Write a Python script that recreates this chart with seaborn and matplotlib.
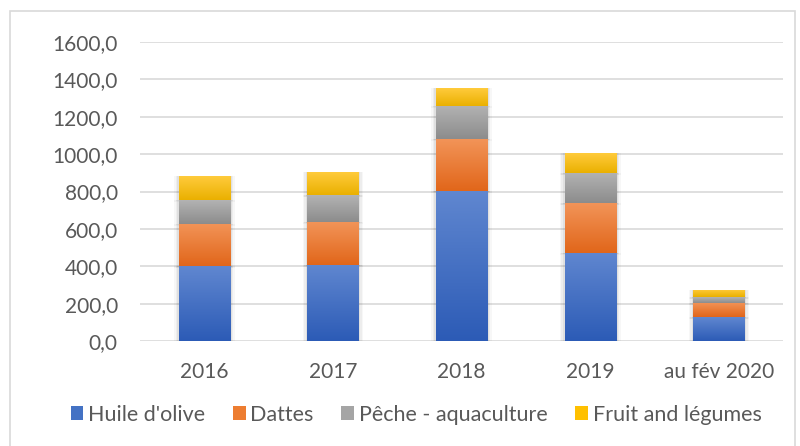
import numpy as np
import pandas as pd
import seaborn as sns
import matplotlib.pyplot as plt
from matplotlib.colors import LinearSegmentedColormap
from matplotlib.patches import Patch, Rectangle

# values
years = ["2016", "2017", "2018", "2019", "au fév 2020"]
huile = [401, 407, 803, 471, 128]
dattes = [227, 230, 278, 267, 77]
peche = [128, 144, 178, 161, 30]
fruits = [127, 123, 95, 105, 38]

series = ["Huile d'olive", "Dattes", "Pêche - aquaculture", "Fruit and légumes"]
# top / bottom colours of the excel style gradient, plus the flat legend colour
grad_top = ["#6087D0", "#F29458", "#B3B3B3", "#FFCB3C"]
grad_bot = ["#2C5BB6", "#E1661A", "#8C8C8C", "#EAB000"]
flat = ["#4472C4", "#ED7D31", "#A5A5A5", "#FFC000"]

df = pd.DataFrame({"annee": years, series[0]: huile, series[1]: dattes,
                   series[2]: peche, series[3]: fruits})
cum = df[series].cumsum(axis=1)

sns.set_style("white")
plt.rcParams["font.family"] = ["Lato", "DejaVu Sans"]

fig = plt.figure(figsize=(8, 4.46), dpi=100)
ax = fig.add_axes([0.175, 0.2354, 0.804, 0.6704])

# draw the stack from the top layer down, seaborn bars start at 0
for i in reversed(range(len(series))):
    sns.barplot(x=df["annee"], y=cum[series[i]], color=flat[i], width=0.4,
                saturation=1, linewidth=0, ax=ax, zorder=3)

# trim every bar to its own segment and paint a vertical gradient on it
n = len(years)
grad = np.linspace(1, 0, 256).reshape(-1, 1)  # row 0 = top of the bar
for layer, i in enumerate(reversed(range(len(series)))):
    cmap = LinearSegmentedColormap.from_list("g", [grad_bot[i], grad_top[i]])
    for j in range(n):
        p = ax.patches[layer * n + j]
        b = float(cum[series[i - 1]][j]) if i > 0 else 0.0
        p.set_y(b)
        p.set_height(float(df[series[i]][j]))
        x0 = p.get_x()
        x1 = x0 + p.get_width()
        # soft shadow
        for k, a in enumerate([0.05, 0.04, 0.03]):
            d = 0.012 * (k + 1)
            ax.add_patch(Rectangle((x0 - d, b - 4 * (k + 1)), x1 - x0 + 2 * d,
                                   p.get_height() + 4 * (k + 1), color="black",
                                   alpha=a, lw=0, zorder=2))
        im = ax.imshow(grad, extent=[x0, x1, b, b + p.get_height()],
                       aspect="auto", cmap=cmap, vmin=0, vmax=1, zorder=4)
        im.set_clip_path(p)

ax.set_xlim(-0.5, n - 0.5)
ax.set_ylim(0, 1600)
ax.set_yticks(np.arange(0, 1601, 200))
ax.set_yticklabels([f"{v:.1f}".replace(".", ",") for v in np.arange(0, 1601, 200)])
ax.yaxis.grid(True, color="#D9D9D9", linewidth=1.2, zorder=0)
ax.set_axisbelow(True)
sns.despine(ax=ax, left=True, bottom=True, top=True, right=True)
ax.tick_params(axis="both", length=0, labelsize=15, labelcolor="#595959")
ax.tick_params(axis="y", pad=16)
ax.tick_params(axis="x", pad=15)
ax.set_xlabel("")
ax.set_ylabel("")

handles = [Patch(facecolor=flat[i], edgecolor="none") for i in range(len(series))]
fig.legend(handles, series, loc="center", bbox_to_anchor=(0.52, 0.07), ncol=4,
           frameon=False, fontsize=15.5, labelcolor="#595959", handlelength=0.6,
           handleheight=0.6, handletextpad=0.2, columnspacing=1.3)

# outer chart border
fig.add_artist(Rectangle((10 / 800, -0.05), 785 / 800, 1.05 - 11 / 446,
                         transform=fig.transFigure, fill=False,
                         edgecolor="#D9D9D9", linewidth=1.2))

fig.savefig("out.png", dpi=100)
